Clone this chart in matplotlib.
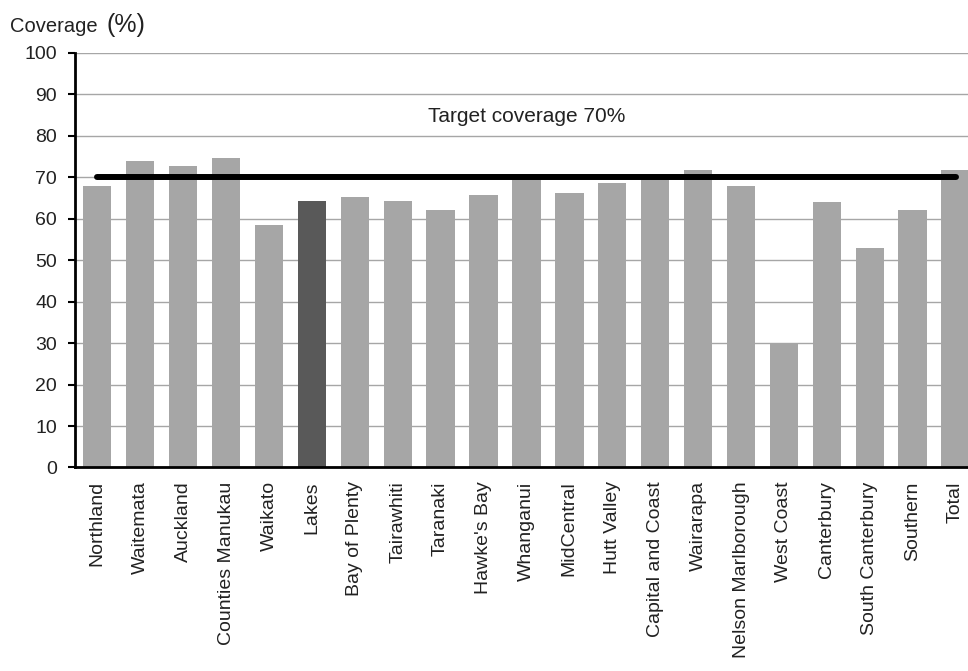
import matplotlib.pyplot as plt
import numpy as np

plt.rcParams['font.family'] = ['Liberation Sans', 'DejaVu Sans']

regions = ["Northland", "Waitemata", "Auckland", "Counties Manukau", "Waikato",
           "Lakes", "Bay of Plenty", "Tairawhiti", "Taranaki", "Hawke's Bay",
           "Whanganui", "MidCentral", "Hutt Valley", "Capital and Coast",
           "Wairarapa", "Nelson Marlborough", "West Coast", "Canterbury",
           "South Canterbury", "Southern", "Total"]
coverage = [67.9, 73.8, 72.6, 74.7, 58.4, 64.2, 65.2, 64.2, 62.0, 65.7,
            69.8, 66.1, 68.6, 70.1, 71.6, 67.9, 29.7, 63.9, 52.8, 62.0, 71.6]
highlight = "Lakes"
target = 70
yticks = list(range(0, 101, 10))

fig = plt.figure(figsize=(9.68, 6.71), dpi=100)
ax = fig.add_axes([0.0775, 0.3033, 0.9327, 0.6182])

x = np.arange(len(regions))
colors = ["#595959" if r == highlight else "#a6a6a6" for r in regions]
ax.bar(x, coverage, width=0.66, color=colors, zorder=2)

# target line across the bars
ax.plot([x[0], x[-1]], [target, target], color="black", linewidth=4.3,
        solid_capstyle="round", zorder=3)
ax.text(x[len(x) // 2], 84.5, f"Target coverage {target}%", ha="center",
        va="center", fontsize=15, color="#222222")

ax.set_xlim(-0.52, len(regions) - 0.48)
ax.set_ylim(0, 100)
ax.set_yticks(yticks)
ax.set_xticks(x)
ax.set_xticklabels(regions, rotation=90, fontsize=14, color="#222222")
ax.tick_params(axis="x", length=0, pad=10)
ax.tick_params(axis="y", length=5, width=1.5, labelsize=14, pad=8,
               labelcolor="#222222")

ax.yaxis.grid(True, color="#a6a6a6", linewidth=1, zorder=0)
ax.set_axisbelow(True)
for s in ["top", "right"]:
    ax.spines[s].set_visible(False)
ax.spines["left"].set_linewidth(2)
ax.spines["bottom"].set_linewidth(2)

fig.text(10 / 968, 1 - 32 / 671, "Coverage", fontsize=14.5, va="baseline",
         color="#222222")
fig.text(106 / 968, 1 - 32 / 671, "(%)", fontsize=18, va="baseline",
         color="#222222")

fig.savefig("out.png", dpi=100)
